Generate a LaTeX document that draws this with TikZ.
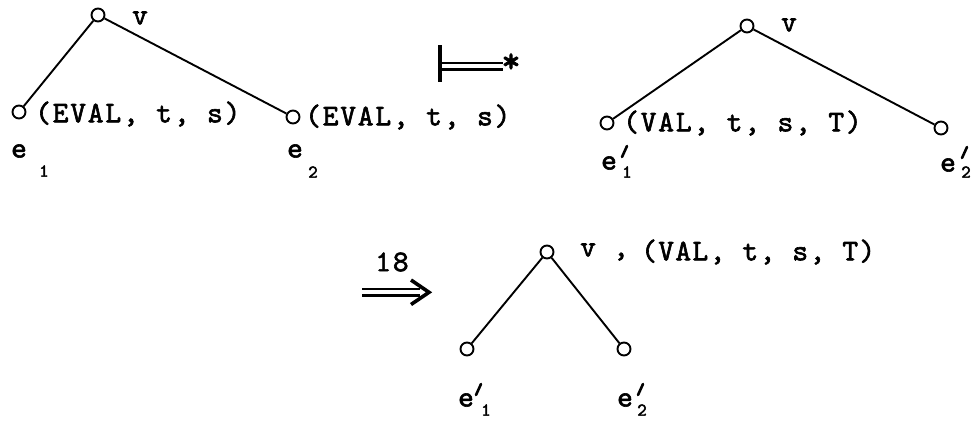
\documentclass[tikz,border=0pt]{standalone}
\usepackage{fontspec}
\newfontfamily\courfam{lmmono10-regular}[Extension=.otf,LetterSpace=6,FakeBold=2]
\newfontfamily\courtight{lmmono10-regular}[Extension=.otf,LetterSpace=4.5,FakeBold=2]
\newfontfamily\coursub{lmmono10-regular}[Extension=.otf,FakeBold=2.5]
\newcommand{\typew}{\fontsize{30}{32}\selectfont\courfam}
\newcommand{\typet}{\fontsize{30}{32}\selectfont\courtight}
\newcommand{\typesub}{\fontsize{18}{20}\selectfont\coursub}
\begin{document}
\begin{tikzpicture}[x=1pt,y=-1pt,
  vert/.style={circle,draw,line width=1.9pt,minimum size=13pt,inner sep=0pt},
  edge/.style={line width=1.9pt},
  lbl/.style={font=\typew,inner sep=0pt,anchor=west},
  ee/.style={font=\typew,inner sep=0pt},
  sub/.style={font=\typesub,inner sep=0pt},
  prm/.style={line width=2.6pt,line cap=round}]
\useasboundingbox (0,0) rectangle (973,421);
% tree 1
\node[vert] (r1) at (98,15) {};
\node[vert] (a1) at (19,112) {};
\node[vert] (a2) at (293,117) {};
\draw[edge] (r1) -- (a1);
\draw[edge] (r1) -- (a2);
\node[ee] (v1) at (140,18) {v};
\node[lbl] (l1) at (35,114) {(EVAL, t, s)};
\node[lbl] (l2) at (305,117) {(EVAL, t, s)};
\node[ee] (e1) at (19,151) {e};
\node[sub] (s1) at (44,171) {1};
\node[ee] (e2) at (295,151) {e};
\node[sub] (s2) at (313,172) {2};
% turnstile
\coordinate (tt) at (440,45);
\coordinate (tb) at (440,82);
\coordinate (ta) at (440,63);
\coordinate (tae) at (503,63);
\coordinate (tc) at (440,69.5);
\coordinate (tce) at (503,69.5);
\draw[line width=3.5pt] (tt) -- (tb);
\draw[line width=2.4pt] (ta) -- (tae);
\draw[line width=2.4pt] (tc) -- (tce);
\node[ee,font=\fontsize{36}{38}\selectfont\coursub] (star) at (511,63) {*};
% tree 2
\node[vert] (r2) at (747,26) {};
\node[vert] (b1) at (607,123) {};
\node[vert] (b2) at (941,128) {};
\draw[edge] (r2) -- (b1);
\draw[edge] (r2) -- (b2);
\node[ee] (v2) at (789,25) {v};
\node[lbl] (l3) at (623,123) {(VAL, t, s, T)};
\node[ee] (e3) at (609,163) {e};
\coordinate (p3a) at (627,146);
\coordinate (p3b) at (622,157);
\draw[prm] (p3a) -- (p3b);
\node[sub] (s3) at (627,172) {1};
\node[ee] (e4) at (948,165) {e};
\coordinate (p4a) at (967,147);
\coordinate (p4b) at (962,158);
\draw[prm] (p4a) -- (p4b);
\node[sub] (s4) at (966,172) {2};
% arrow 18
\node[ee] (n18) at (392,262) {18};
\coordinate (aa) at (362,289);
\coordinate (aae) at (420,289);
\coordinate (ab) at (362,295.5);
\coordinate (abe) at (420,295.5);
\coordinate (tip) at (429,292.3);
\coordinate (hu) at (411,280);
\coordinate (hd) at (411,304.5);
\draw[line width=2.4pt] (aa) -- (aae);
\draw[line width=2.4pt] (ab) -- (abe);
\draw[line width=3.6pt,line join=miter] (hu) -- (tip) -- (hd);
% tree 3
\node[vert] (r3) at (547,252) {};
\node[vert] (c1) at (467,349) {};
\node[vert] (c2) at (624,349) {};
\draw[edge] (r3) -- (c1);
\draw[edge] (r3) -- (c2);
\node[lbl,font=\typet] (l4a) at (580,252) {v ,};
\node[lbl,font=\typet] (l4) at (641,252) {(VAL, t, s, T)};
\node[ee] (e5) at (466,400) {e};
\coordinate (p5a) at (481,384);
\coordinate (p5b) at (476,395);
\draw[prm] (p5a) -- (p5b);
\node[sub] (s5) at (486,410) {1};
\node[ee] (e6) at (625,400) {e};
\coordinate (p6a) at (643,384);
\coordinate (p6b) at (638,395);
\draw[prm] (p6a) -- (p6b);
\node[sub] (s6) at (642,410) {2};
\end{tikzpicture}
\end{document}
